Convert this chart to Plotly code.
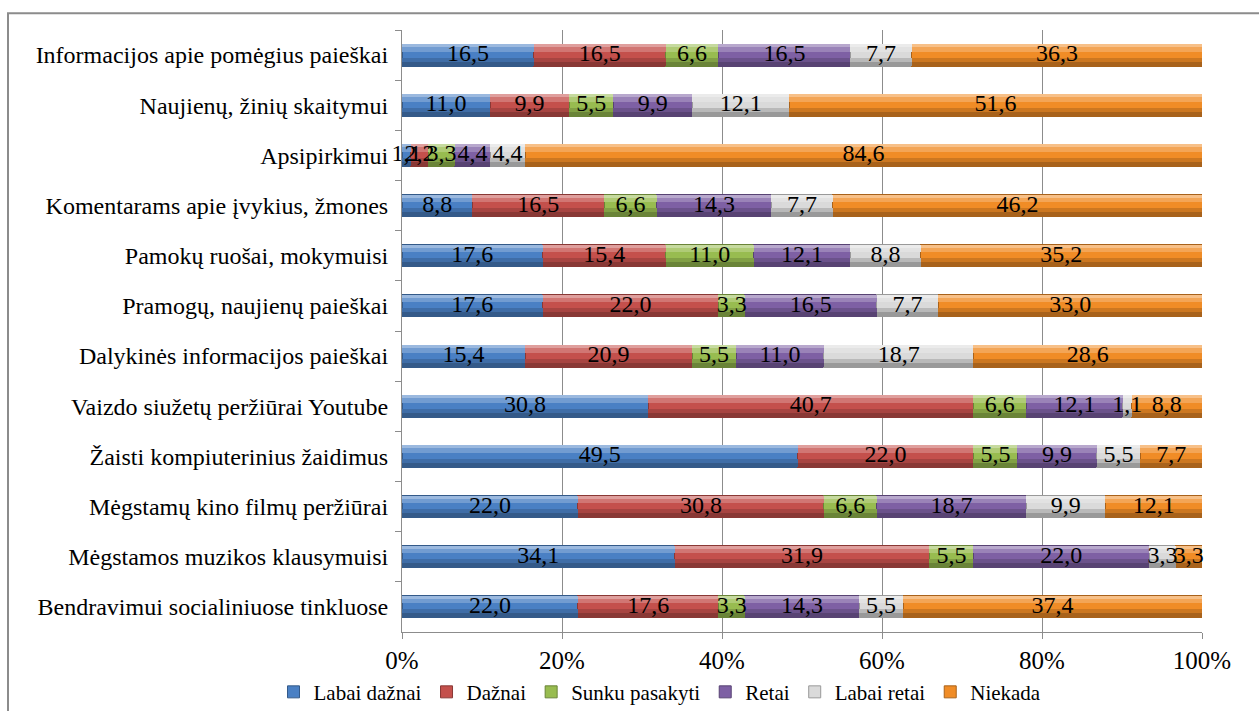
import plotly.graph_objects as go

categories = [
    "Informacijos apie pomėgius paieškai",
    "Naujienų, žinių skaitymui",
    "Apsipirkimui",
    "Komentarams apie įvykius, žmones",
    "Pamokų ruošai, mokymuisi",
    "Pramogų, naujienų paieškai",
    "Dalykinės informacijos paieškai",
    "Vaizdo siužetų peržiūrai Youtube",
    "Žaisti kompiuterinius žaidimus",
    "Mėgstamų kino filmų peržiūrai",
    "Mėgstamos muzikos klausymuisi",
    "Bendravimui socialiniuose tinkluose",
]

series_names = ["Labai dažnai", "Dažnai", "Sunku pasakyti", "Retai", "Labai retai", "Niekada"]

labai_daznai = [16.5, 11.0, 1.1, 8.8, 17.6, 17.6, 15.4, 30.8, 49.5, 22.0, 34.1, 22.0]
daznai = [16.5, 9.9, 2.2, 16.5, 15.4, 22.0, 20.9, 40.7, 22.0, 30.8, 31.9, 17.6]
sunku_pasakyti = [6.6, 5.5, 3.3, 6.6, 11.0, 3.3, 5.5, 6.6, 5.5, 6.6, 5.5, 3.3]
retai = [16.5, 9.9, 4.4, 14.3, 12.1, 16.5, 11.0, 12.1, 9.9, 18.7, 22.0, 14.3]
labai_retai = [7.7, 12.1, 4.4, 7.7, 8.8, 7.7, 18.7, 1.1, 5.5, 9.9, 3.3, 5.5]
niekada = [36.3, 51.6, 84.6, 46.2, 35.2, 33.0, 28.6, 8.8, 7.7, 12.1, 3.3, 37.4]

x_ticks = [0, 20, 40, 60, 80, 100]
x_tick_labels = ["0%", "20%", "40%", "60%", "80%", "100%"]

series_values = [labai_daznai, daznai, sunku_pasakyti, retai, labai_retai, niekada]
base_colors = ["#4a80c4", "#c4504c", "#98bc50", "#7e60a4", "#dadada", "#f08c26"]

FONT = "Liberation Serif"
n_cat = len(categories)
y_range = [n_cat - 0.5, -0.5]
BAR_W = 0.44


def mix(hex_color, target, t):
    """Blend a hex colour toward an RGB target by fraction t."""
    h = hex_color.lstrip("#")
    rgb = [int(h[i:i + 2], 16) for i in (0, 2, 4)]
    out = [round(c + (g - c) * t) for c, g in zip(rgb, target)]
    return "#{:02x}{:02x}{:02x}".format(*out)


WHITE, BLACK = (255, 255, 255), (0, 0, 0)

# horizontal shading bands laid over every bar: (offset, width, target, amount)
bands = [
    (-0.22, 0.06, WHITE, 0.45),
    (-0.16, 0.09, WHITE, 0.22),
    (0.05, 0.08, BLACK, 0.15),
    (0.13, 0.09, BLACK, 0.30),
]

fig = go.Figure()

# main bars (100% stacked)
for name, vals, col in zip(series_names, series_values, base_colors):
    fig.add_trace(go.Bar(
        y=categories,
        x=vals,
        name=name,
        orientation="h",
        marker=dict(color=col, line=dict(color=mix(col, BLACK, 0.3), width=1)),
        hoverinfo="x+y+name",
    ))

# shading bands, each on its own overlaid axis so they stack independently
for b, (off, w, target, amt) in enumerate(bands):
    for vals, col in zip(series_values, base_colors):
        fig.add_trace(go.Bar(
            y=categories,
            x=vals,
            orientation="h",
            yaxis=f"y{b + 2}",
            width=w,
            offset=off,
            marker=dict(color=mix(col, target, amt), line=dict(width=0)),
            showlegend=False,
            hoverinfo="skip",
        ))

top_axis = f"y{len(bands) + 1}"

# value labels centred on each segment (positions from the normalised stack)
for i, vals in enumerate(series_values):
    xs = []
    for c in range(n_cat):
        total = sum(s[c] for s in series_values)
        before = sum(series_values[k][c] for k in range(i))
        xs.append((before + vals[c] / 2) / total * 100)
    fig.add_trace(go.Scatter(
        x=xs,
        y=categories,
        yaxis=top_axis,
        mode="text",
        text=[f"{v:.1f}".replace(".", ",") for v in vals],
        textposition="middle center",
        textfont=dict(family=FONT, size=24, color="black"),
        showlegend=False,
        hoverinfo="skip",
        cliponaxis=False,
    ))

overlay_axis = dict(
    overlaying="y",
    categoryorder="array",
    categoryarray=categories,
    range=y_range,
    visible=False,
    fixedrange=True,
)

layout_axes = {f"yaxis{b + 2}": overlay_axis for b in range(len(bands))}

fig.update_layout(
    width=1259,
    height=711,
    barmode="stack",
    barnorm="percent",
    bargap=1 - BAR_W,
    paper_bgcolor="white",
    plot_bgcolor="white",
    margin=dict(l=402, r=57, t=30, b=79, autoexpand=False),
    font=dict(family=FONT, size=21, color="black"),
    legend=dict(
        orientation="h",
        x=0.3225,
        xanchor="center",
        y=-0.1,
        yanchor="middle",
        font=dict(family=FONT, size=21, color="black"),
        itemwidth=30,
        traceorder="normal",
        bgcolor="rgba(0,0,0,0)",
    ),
    xaxis=dict(
        range=[0, 100],
        tickvals=x_ticks,
        ticktext=x_tick_labels,
        showgrid=True,
        gridcolor="#8c8c8c",
        gridwidth=1,
        showline=True,
        linecolor="#8c8c8c",
        ticks="outside",
        ticklen=6,
        tickcolor="#8c8c8c",
        tickfont=dict(family=FONT, size=25, color="black"),
        zeroline=False,
        fixedrange=True,
    ),
    yaxis=dict(
        categoryorder="array",
        categoryarray=categories,
        range=y_range,
        showline=True,
        linecolor="#8c8c8c",
        ticks="outside",
        tickson="boundaries",
        ticklen=6,
        tickcolor="#8c8c8c",
        tickfont=dict(family=FONT, size=24, color="black"),
        ticklabelstandoff=8,
        showgrid=False,
        fixedrange=True,
    ),
    shapes=[
        dict(
            type="rect",
            xref="paper",
            yref="paper",
            x0=-0.4925,
            x1=1.2,
            y0=-0.3,
            y1=1.028,
            line=dict(color="#8c8c8c", width=2),
            fillcolor="rgba(0,0,0,0)",
            layer="below",
        )
    ],
    **layout_axes,
)

fig.write_html("out.html")
